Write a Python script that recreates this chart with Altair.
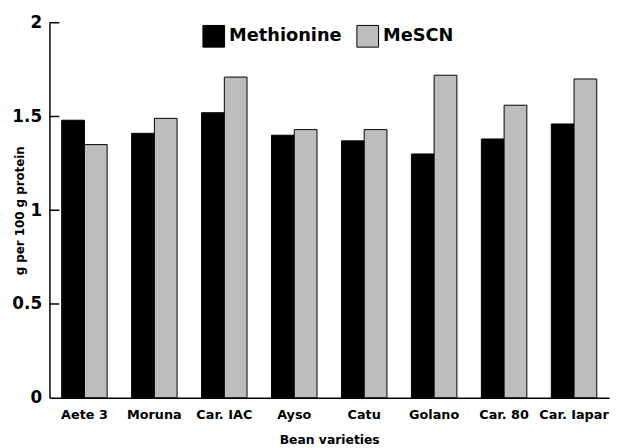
import altair as alt
import pandas as pd

varieties = ["Aete 3", "Moruna", "Car. IAC", "Ayso", "Catu", "Golano", "Car. 80", "Car. Iapar"]
methionine = [1.48, 1.41, 1.52, 1.40, 1.37, 1.30, 1.38, 1.46]
mescn = [1.35, 1.49, 1.71, 1.43, 1.43, 1.72, 1.56, 1.70]
series = ["Methionine", "MeSCN"]
y_ticks = [0, 0.5, 1, 1.5, 2]

rows = []
for v, m, s in zip(varieties, methionine, mescn):
    rows.append({"variety": v, "series": series[0], "value": m})
    rows.append({"variety": v, "series": series[1], "value": s})
df = pd.DataFrame(rows)
tick_df = pd.DataFrame({"t": y_ticks[1:]})

FONT = "DejaVu Sans"
yscale = alt.Scale(domain=[0, 2], nice=False)

y_axis = alt.Axis(
    values=y_ticks, labelExpr="datum.value", tickSize=0, labelPadding=8,
    labelFontSize=17, labelFontWeight="bold", labelFont=FONT, labelColor="black",
    grid=False, domainColor="black", domainWidth=1.5,
    title="g per 100 g protein", titleFont=FONT, titleFontSize=12,
    titleFontWeight="bold", titleColor="black", titleAngle=270,
    titleX=-30, titleY=190, titleAlign="center", titleBaseline="middle",
)

bars = alt.Chart(df).mark_bar(stroke="black", strokeWidth=1).encode(
    x=alt.X(
        "variety:N", sort=varieties,
        scale=alt.Scale(paddingInner=0.35, paddingOuter=0.175),
        axis=alt.Axis(
            title="Bean varieties", labelAngle=0, tickSize=0, labelPadding=11,
            labelFontSize=13, labelFontWeight="bold", labelFont=FONT, labelColor="black",
            titleFont=FONT, titleFontSize=12.5, titleFontWeight="bold", titleColor="black",
            titlePadding=12, domainColor="black", domainWidth=1.5,
        ),
    ),
    xOffset=alt.XOffset("series:N", sort=series, scale=alt.Scale(paddingInner=0, paddingOuter=0)),
    y=alt.Y("value:Q", scale=yscale, axis=y_axis),
    fill=alt.Fill(
        "series:N", sort=series,
        scale=alt.Scale(domain=series, range=["black", "#bdbdbd"]),
        legend=alt.Legend(
            title=None, orient="none", legendX=155, legendY=2, direction="horizontal",
            symbolType="square", symbolSize=484, symbolStrokeColor="black",
            symbolStrokeWidth=1, symbolOpacity=1, labelFontSize=18, labelFont=FONT,
            labelFontWeight="bold", labelColor="black", labelOffset=4,
            columnPadding=12, padding=0,
        ),
    ),
)

ticks = alt.Chart(tick_df).mark_rule(color="black", strokeWidth=1.5).encode(
    y=alt.Y("t:Q", scale=yscale, axis=y_axis),
    x=alt.value(0),
    x2=alt.value(10),
)

chart = alt.layer(bars, ticks).properties(
    width=567, height=380,
    autosize=alt.AutoSizeParams(type="none"),
    padding={"left": 42, "top": 12, "right": 1, "bottom": 48},
    background="white",
).configure_view(stroke=None)

chart.save("out.html", embed_options={"renderer": "svg", "actions": False})
